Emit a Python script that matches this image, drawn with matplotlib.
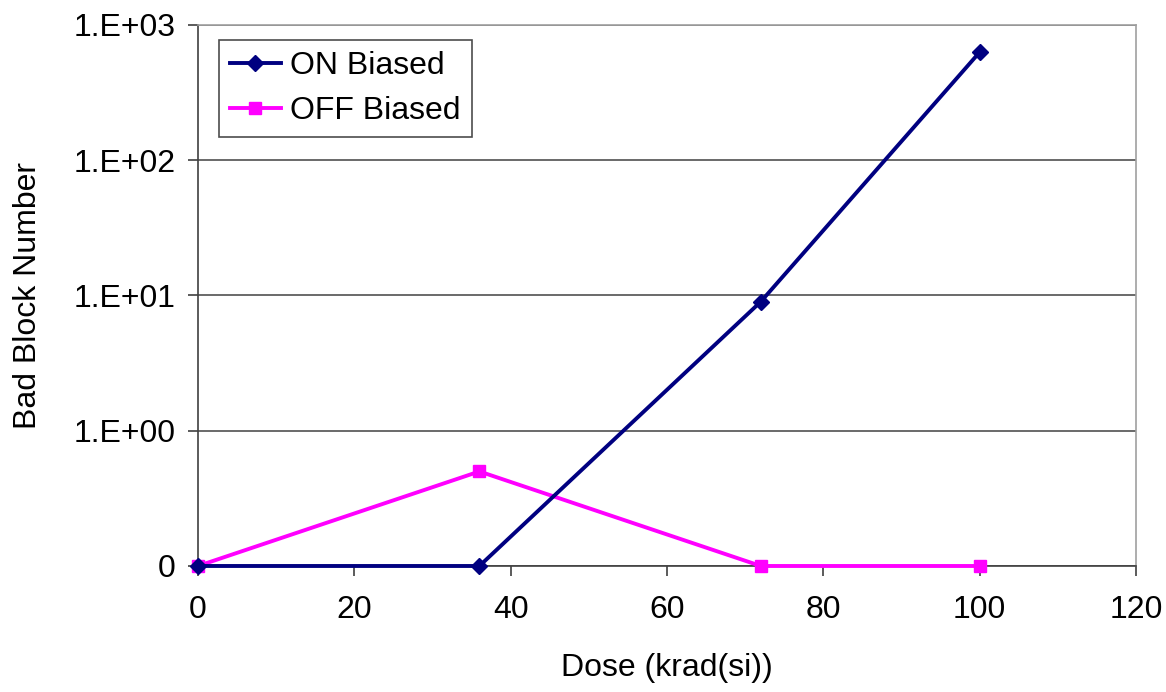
import numpy as np
import matplotlib.pyplot as plt

plt.rcParams['font.family'] = ['Liberation Sans', 'DejaVu Sans']

# --- data ------------------------------------------
dose = [0, 36, 72, 100]
on_biased = [0, 0, 9, 630]
off_biased = [0, 0.5, 0, 0]

y_ticks = [0.1, 1, 10, 100, 1000]
y_labels = ['0', '1.E+00', '1.E+01', '1.E+02', '1.E+03']
x_ticks = [0, 20, 40, 60, 80, 100, 120]

FLOOR = 0.1   # excel-style log axis shows zero at the bottom


def lift(v):
    v = np.asarray(v, dtype=float)
    return np.where(v <= 0, FLOOR, v)


fig = plt.figure(figsize=(11.66, 6.92), dpi=100)
ax = fig.add_axes([0.1698, 0.1821, 0.8045, 0.7818])

ax.plot(dose, lift(on_biased), color='#000080', lw=2.8, marker='D', ms=8,
        label='ON Biased', clip_on=False, zorder=4)
ax.plot(dose, lift(off_biased), color='#FF00FF', lw=2.8, marker='s', ms=9,
        label='OFF Biased', clip_on=False, zorder=3)

ax.set_yscale('log')
ax.set_ylim(0.1, 1000)
ax.set_xlim(0, 120)
ax.set_yticks(y_ticks)
ax.set_yticklabels(y_labels)
ax.minorticks_off()
ax.set_xticks(x_ticks)

ax.yaxis.grid(True, color='#505050', lw=1.2)
ax.set_axisbelow(True)

for s in ['top', 'right']:
    ax.spines[s].set_color('#a0a0a0')
    ax.spines[s].set_linewidth(1.2)
for s in ['left', 'bottom']:
    ax.spines[s].set_color('#404040')
    ax.spines[s].set_linewidth(1.2)

ax.tick_params(axis='both', labelsize=23, length=7, width=1.2,
               color='#404040', direction='out')
ax.tick_params(axis='y', pad=9)
ax.tick_params(axis='x', pad=14)

ax.set_xlabel('Dose (krad(si))', fontsize=23, labelpad=20)
ax.set_ylabel('Bad Block Number', fontsize=23, labelpad=22)

leg = ax.legend(loc='upper left', bbox_to_anchor=(0.022, 0.972), fontsize=23,
                frameon=True, fancybox=False, borderpad=0.35, handlelength=1.6,
                handletextpad=0.3, labelspacing=0.45, borderaxespad=0)
leg.get_frame().set_edgecolor('#202020')
leg.get_frame().set_linewidth(1.2)

fig.savefig('out.png', dpi=100)
